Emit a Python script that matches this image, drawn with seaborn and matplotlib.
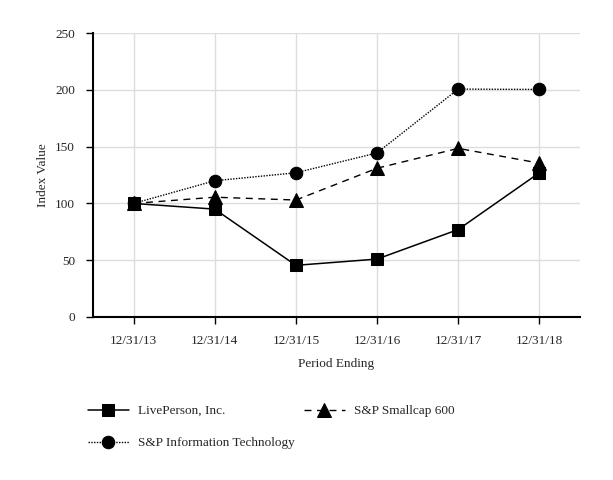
import numpy as np
import pandas as pd
import matplotlib
matplotlib.use("Agg")
import matplotlib.pyplot as plt
import seaborn as sb

# dati
periods = ["12/31/13", "12/31/14", "12/31/15", "12/31/16", "12/31/17", "12/31/18"]
liveperson = [100, 95, 45.5, 51, 77, 127]
smallcap = [100, 105.5, 103, 131, 148.5, 135.5]
info_tech = [100, 120, 127, 144.5, 200.7, 200.4]

sb.set_style("white")
plt.rcParams["font.family"] = ["Liberation Serif", "DejaVu Serif"]

fig = plt.figure(figsize=(6.13, 4.8), dpi=100)
ax = fig.add_axes([0.1517, 0.3396, 0.7943, 0.5914])

x = np.arange(len(periods))
sb.lineplot(x=x, y=liveperson, ax=ax, color="black", linestyle="-", linewidth=1.1,
            marker="s", markersize=9, markeredgecolor="black", label="LivePerson, Inc.")
sb.lineplot(x=x, y=info_tech, ax=ax, color="black", linestyle=(0, (1, 1)), linewidth=1.0,
            marker="o", markersize=9, markeredgecolor="black", label="S&P Information Technology")
sb.lineplot(x=x, y=smallcap, ax=ax, color="black", linestyle=(0, (5, 4)), linewidth=1.0,
            marker="^", markersize=10, markeredgecolor="black", label="S&P Smallcap 600")

ax.set_xlim(-0.5, 5.5)
ax.set_ylim(0, 250)
ax.set_xticks(x)
ax.set_xticklabels(periods)
ax.set_yticks([0, 50, 100, 150, 200, 250])
ax.grid(True, color="#dddddd", linewidth=1)
ax.set_axisbelow(True)

for s in ["top", "right"]:
    ax.spines[s].set_visible(False)
for s in ["left", "bottom"]:
    ax.spines[s].set_color("black")
    ax.spines[s].set_linewidth(1.5)

ax.tick_params(axis="both", which="both", direction="out", length=5, width=1,
               color="black", labelsize=9.5, pad=8, bottom=True, left=True)
ax.set_xlabel("Period Ending", fontsize=9.5, labelpad=8)
ax.set_ylabel("Index Value", fontsize=9.5, labelpad=4)

h, l = ax.get_legend_handles_labels()
ax.get_legend().remove()
fig.legend(h, l, loc="upper left", bbox_to_anchor=(0.124, 0.181), ncol=2,
           frameon=False, fontsize=9.5, handlelength=3.1, columnspacing=0.7,
           labelspacing=1.5, handletextpad=0.7)

fig.savefig("out.png", dpi=100)
